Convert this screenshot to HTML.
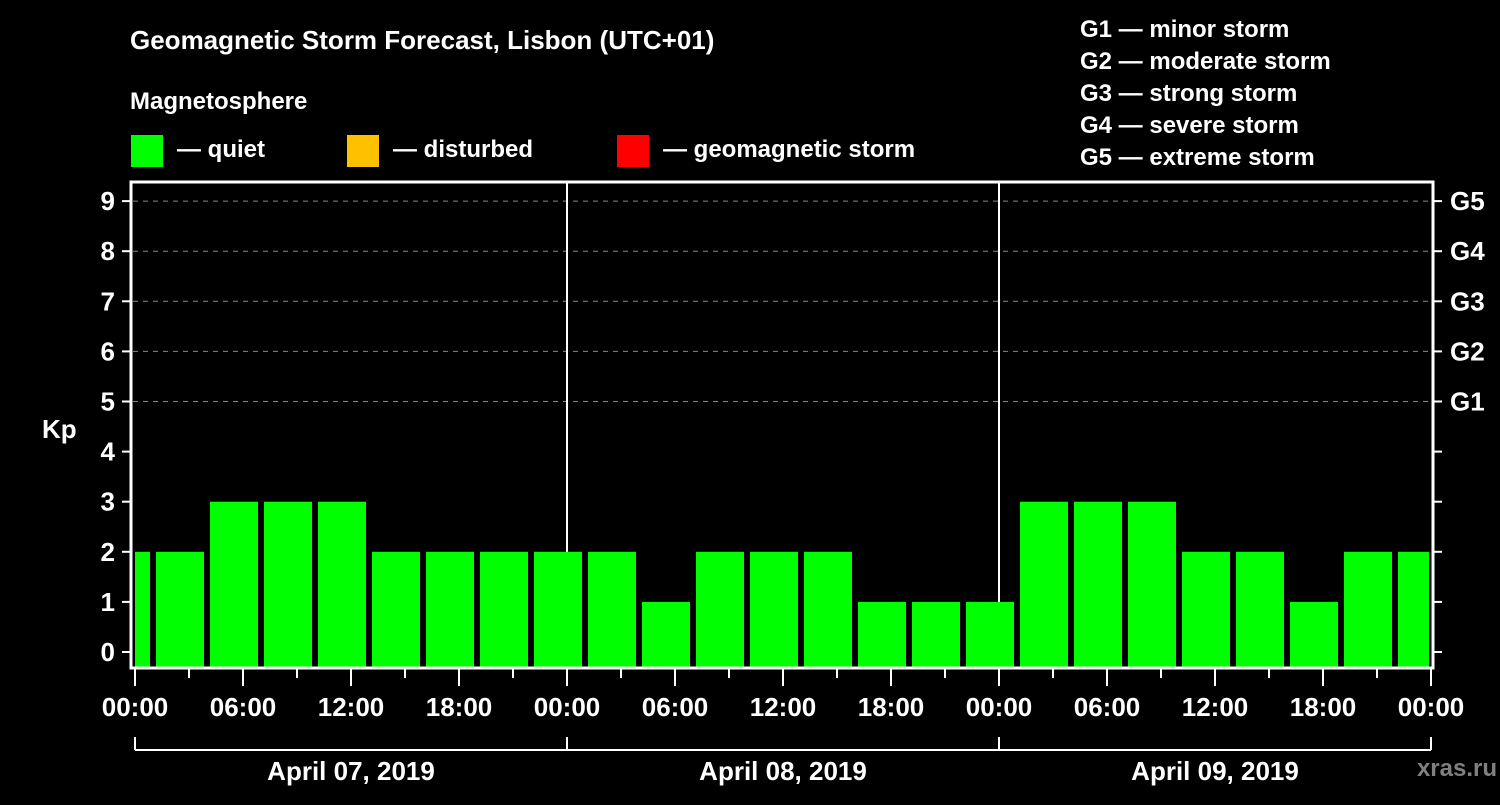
<!DOCTYPE html>
<html><head><meta charset="utf-8"><style>
html,body{margin:0;padding:0;background:#000;}
svg text{font-family:"Liberation Sans",sans-serif;font-weight:bold;fill:#fff;}
</style></head><body>
<svg width="1500" height="800" xmlns="http://www.w3.org/2000/svg">
<rect width="1500" height="800" fill="#000"/>
<text x="130" y="49" font-size="26">Geomagnetic Storm Forecast, Lisbon (UTC+01)</text>
<text x="130" y="109" font-size="24">Magnetosphere</text>
<g><rect x="131" y="135" width="32" height="32" fill="#00ff00"/><text x="177" y="157" font-size="24">— quiet</text></g>
<g><rect x="347" y="135" width="32" height="32" fill="#ffc000"/><text x="393" y="157" font-size="24">— disturbed</text></g>
<g><rect x="617" y="135" width="32" height="32" fill="#ff0000"/><text x="663" y="157" font-size="24">— geomagnetic storm</text></g>
<g font-size="24">
<text x="1080" y="37">G1 — minor storm</text>
<text x="1080" y="69">G2 — moderate storm</text>
<text x="1080" y="101">G3 — strong storm</text>
<text x="1080" y="133">G4 — severe storm</text>
<text x="1080" y="165">G5 — extreme storm</text>
</g>
<text x="42" y="438" font-size="26">Kp</text>
<g id="grid"></g>
<g id="bars"></g>
<rect x="131" y="182" width="1302" height="486" fill="none" stroke="#fff" stroke-width="3"/>
<g id="axes"></g>
<text x="1497" y="776" font-size="24" text-anchor="end" style="fill:#808080">xras.ru</text>
</svg>
<script>
const kpValues=[2,2,3,3,3,2,2,2,2,2,1,2,2,2,1,1,1,3,3,3,2,2,1,2,2];
const yTicks=[0,1,2,3,4,5,6,7,8,9];
const gLabels=["G1","G2","G3","G4","G5"];
const gLevels=[5,6,7,8,9];
const xTickLabels=["00:00","06:00","12:00","18:00","00:00","06:00","12:00","18:00","00:00","06:00","12:00","18:00","00:00"];
const dayLabels=["April 07, 2019","April 08, 2019","April 09, 2019"];
const NS="http://www.w3.org/2000/svg";
const X0=135,DAY=432,PL=133,PR=1431;
const xh=h=>X0+h*DAY/24;
const ky=v=>652-v*50.1;
function mk(tag,attrs,parent){const e=document.createElementNS(NS,tag);for(const k in attrs)e.setAttribute(k,attrs[k]);parent.appendChild(e);return e;}
const grid=document.getElementById('grid'),bars=document.getElementById('bars'),axes=document.getElementById('axes');
gLevels.forEach((v,i)=>{
 const l=mk('line',{x1:PL,x2:PR,y1:ky(v),y2:ky(v),stroke:'#888','stroke-dasharray':'5,5','stroke-width':1},grid);
 
 
 const t=mk('text',{x:1450,y:ky(v)+9,'font-size':26},axes);t.textContent=gLabels[i];
 
 
});
[1,2].forEach(d=>{const l=mk('line',{x1:xh(24*d),x2:xh(24*d),y1:182,y2:668,stroke:'#fff','stroke-width':2},grid);
 
 });
kpValues.forEach((v,i)=>{
 let x1=xh(3*i-2)+3,x2=xh(3*i+1)-3;
 x1=Math.max(x1,PL+2);x2=Math.min(x2,PR-2);
 const c=v>=5?'#ff0000':(v>=4?'#ffc000':'#00ff00');
 const r=mk('rect',{x:x1,y:ky(v),width:x2-x1,height:668-ky(v),fill:c},bars);
 
 
});
yTicks.forEach(v=>{
 mk('line',{x1:122,x2:131,y1:ky(v),y2:ky(v),stroke:'#fff','stroke-width':2},axes);
 mk('line',{x1:1433,x2:1442,y1:ky(v),y2:ky(v),stroke:'#fff','stroke-width':2},axes);
 const t=mk('text',{x:115,y:ky(v)+9,'font-size':26,'text-anchor':'end'},axes);t.textContent=v;
 
 
});
for(let h=0;h<=72;h+=3){
 const major=h%6===0;
 mk('line',{x1:xh(h),x2:xh(h),y1:668,y2:major?686:678,stroke:'#fff','stroke-width':2},axes);
}
xTickLabels.forEach((s,i)=>{const t=mk('text',{x:xh(6*i),y:716,'font-size':26,'text-anchor':'middle'},axes);t.textContent=s;
 
 });
mk('line',{x1:xh(0),x2:xh(72),y1:750,y2:750,stroke:'#fff','stroke-width':2},axes);
for(let d=0;d<=3;d++)mk('line',{x1:xh(24*d),x2:xh(24*d),y1:737,y2:750,stroke:'#fff','stroke-width':2},axes);
dayLabels.forEach((s,i)=>{const t=mk('text',{x:xh(24*i+12),y:780,'font-size':26,'text-anchor':'middle'},axes);t.textContent=s;
 
 });
</script>
</body></html>
